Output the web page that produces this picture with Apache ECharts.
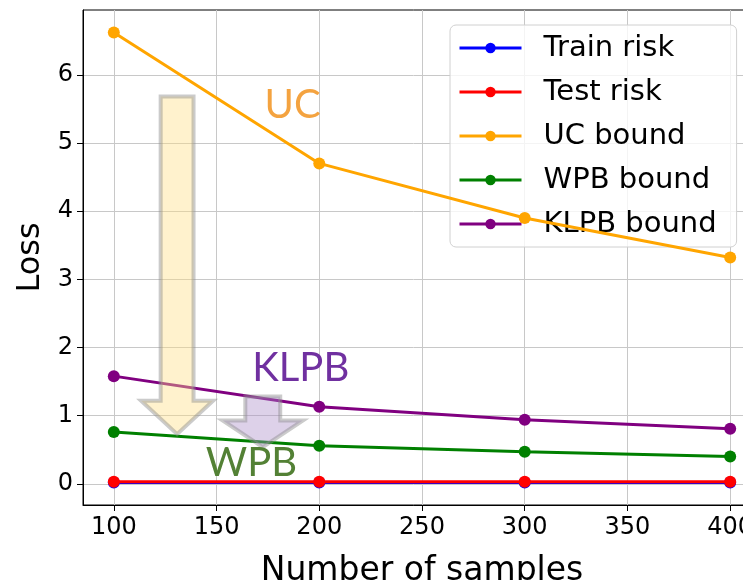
<!DOCTYPE html>
<html>
<head>
<meta charset="utf-8">
<script src="https://cdn.jsdelivr.net/npm/echarts@6/dist/echarts.min.js"></script>
<style>html,body{margin:0;padding:0;background:#fff;overflow:hidden;}#c{width:743px;height:580px;}</style>
</head>
<body>
<div id="c"></div>
<script>
const samples = [100, 200, 300, 400];
const xTicks = [100, 150, 200, 250, 300, 350, 400];
const yTicks = [0, 1, 2, 3, 4, 5, 6];
const trainRisk = [0.02, 0.02, 0.02, 0.02];
const testRisk = [0.03, 0.03, 0.03, 0.03];
const ucBound = [6.62, 4.70, 3.90, 3.32];
const wpbBound = [0.76, 0.56, 0.47, 0.40];
const klpbBound = [1.58, 1.13, 0.94, 0.81];
const seriesNames = ['Train risk', 'Test risk', 'UC bound', 'WPB bound', 'KLPB bound'];
const seriesColors = ['#0000ff', '#ff0000', '#ffa500', '#008000', '#800080'];
const seriesData = [trainRisk, testRisk, ucBound, wpbBound, klpbBound];

// annotations (data coordinates)
const labels = [
  {text: 'UC', x: 187, y: 5.56, color: '#F4A340'},
  {text: 'KLPB', x: 191, y: 1.70, color: '#7030A0'},
  {text: 'WPB', x: 167, y: 0.31, color: '#538135'}
];
const arrows = [
  {x: 130.8, top: 5.68, headBase: 1.22, tip: 0.73, shaftHalf: 8, headHalf: 17.5, fill: 'rgba(255,222,130,0.40)'},
  {x: 172.5, top: 1.28, headBase: 0.93, tip: 0.54, shaftHalf: 8.5, headHalf: 19.5, fill: 'rgba(170,140,200,0.40)'}
];

const chart = echarts.init(document.getElementById('c'));
const font = 'DejaVu Sans';
chart.setOption({
  animation: false,
  grid: {left: 83, top: 10, right: -18, bottom: 75, outerBoundsMode: 'none', containLabel: false,
         show: true, borderColor: '#000', borderWidth: 1},
  legend: {
    data: seriesNames, orient: 'vertical', left: 450, top: 25,
    padding: [8, 20, 8, 8], itemGap: 14, itemWidth: 62, itemHeight: 13,
    backgroundColor: 'rgba(255,255,255,0.8)', borderColor: '#d0d0d0', borderWidth: 1, borderRadius: 6,
    lineStyle: {width: 3},
    textStyle: {fontFamily: font, fontSize: 29, color: '#000', lineHeight: 30, padding: [0, 0, 0, 17]}
  },
  xAxis: {
    type: 'value', min: 85, max: 415,
    name: 'Number of samples', nameLocation: 'middle', nameGap: 50,
    nameTextStyle: {fontFamily: font, fontSize: 33, color: '#000'},
    axisLine: {onZero: false, lineStyle: {color: '#000', width: 1}},
    axisTick: {show: true, length: 6, lineStyle: {color: '#000'}, customValues: xTicks},
    axisLabel: {fontFamily: font, fontSize: 24, color: '#000', margin: 11, customValues: xTicks},
    splitLine: {show: true, lineStyle: {color: '#c8c8c8', width: 1}}
  },
  yAxis: {
    type: 'value', min: -0.31, max: 6.95,
    name: 'Loss', nameLocation: 'middle', nameGap: 35, nameRotate: 90,
    nameTextStyle: {fontFamily: font, fontSize: 32, color: '#000'},
    axisLine: {show: true, onZero: false, lineStyle: {color: '#000', width: 1}},
    axisTick: {show: true, length: 6, lineStyle: {color: '#000'}, customValues: yTicks},
    axisLabel: {fontFamily: font, fontSize: 24, color: '#000', margin: 10, customValues: yTicks},
    splitLine: {show: true, lineStyle: {color: '#c8c8c8', width: 1}}
  },
  series: seriesNames.map((n, i) => ({
    name: n, type: 'line', data: samples.map((s, j) => [s, seriesData[i][j]]),
    symbol: 'circle', symbolSize: 12, showSymbol: true,
    lineStyle: {color: seriesColors[i], width: 3},
    itemStyle: {color: seriesColors[i]}, z: 2 + i
  }))
});

const px = (x, y) => chart.convertToPixel({gridIndex: 0}, [x, y]);
const graphics = [];
arrows.forEach(a => {
  const pts = [
    px(a.x - a.shaftHalf, a.top), px(a.x + a.shaftHalf, a.top),
    px(a.x + a.shaftHalf, a.headBase), px(a.x + a.headHalf, a.headBase),
    px(a.x, a.tip),
    px(a.x - a.headHalf, a.headBase), px(a.x - a.shaftHalf, a.headBase)
  ];
  graphics.push({type: 'polygon', z: 20, shape: {points: pts},
    style: {fill: a.fill, stroke: 'rgba(140,140,140,0.45)', lineWidth: 4, lineJoin: 'miter'}});
});
labels.forEach(l => {
  const p = px(l.x, l.y);
  graphics.push({type: 'text', z: 21, x: p[0], y: p[1],
    style: {text: l.text, fill: l.color, fontFamily: 'Lato', fontSize: 40, align: 'center', verticalAlign: 'middle'}});
});
chart.setOption({graphic: graphics});
</script>
</body>
</html>
